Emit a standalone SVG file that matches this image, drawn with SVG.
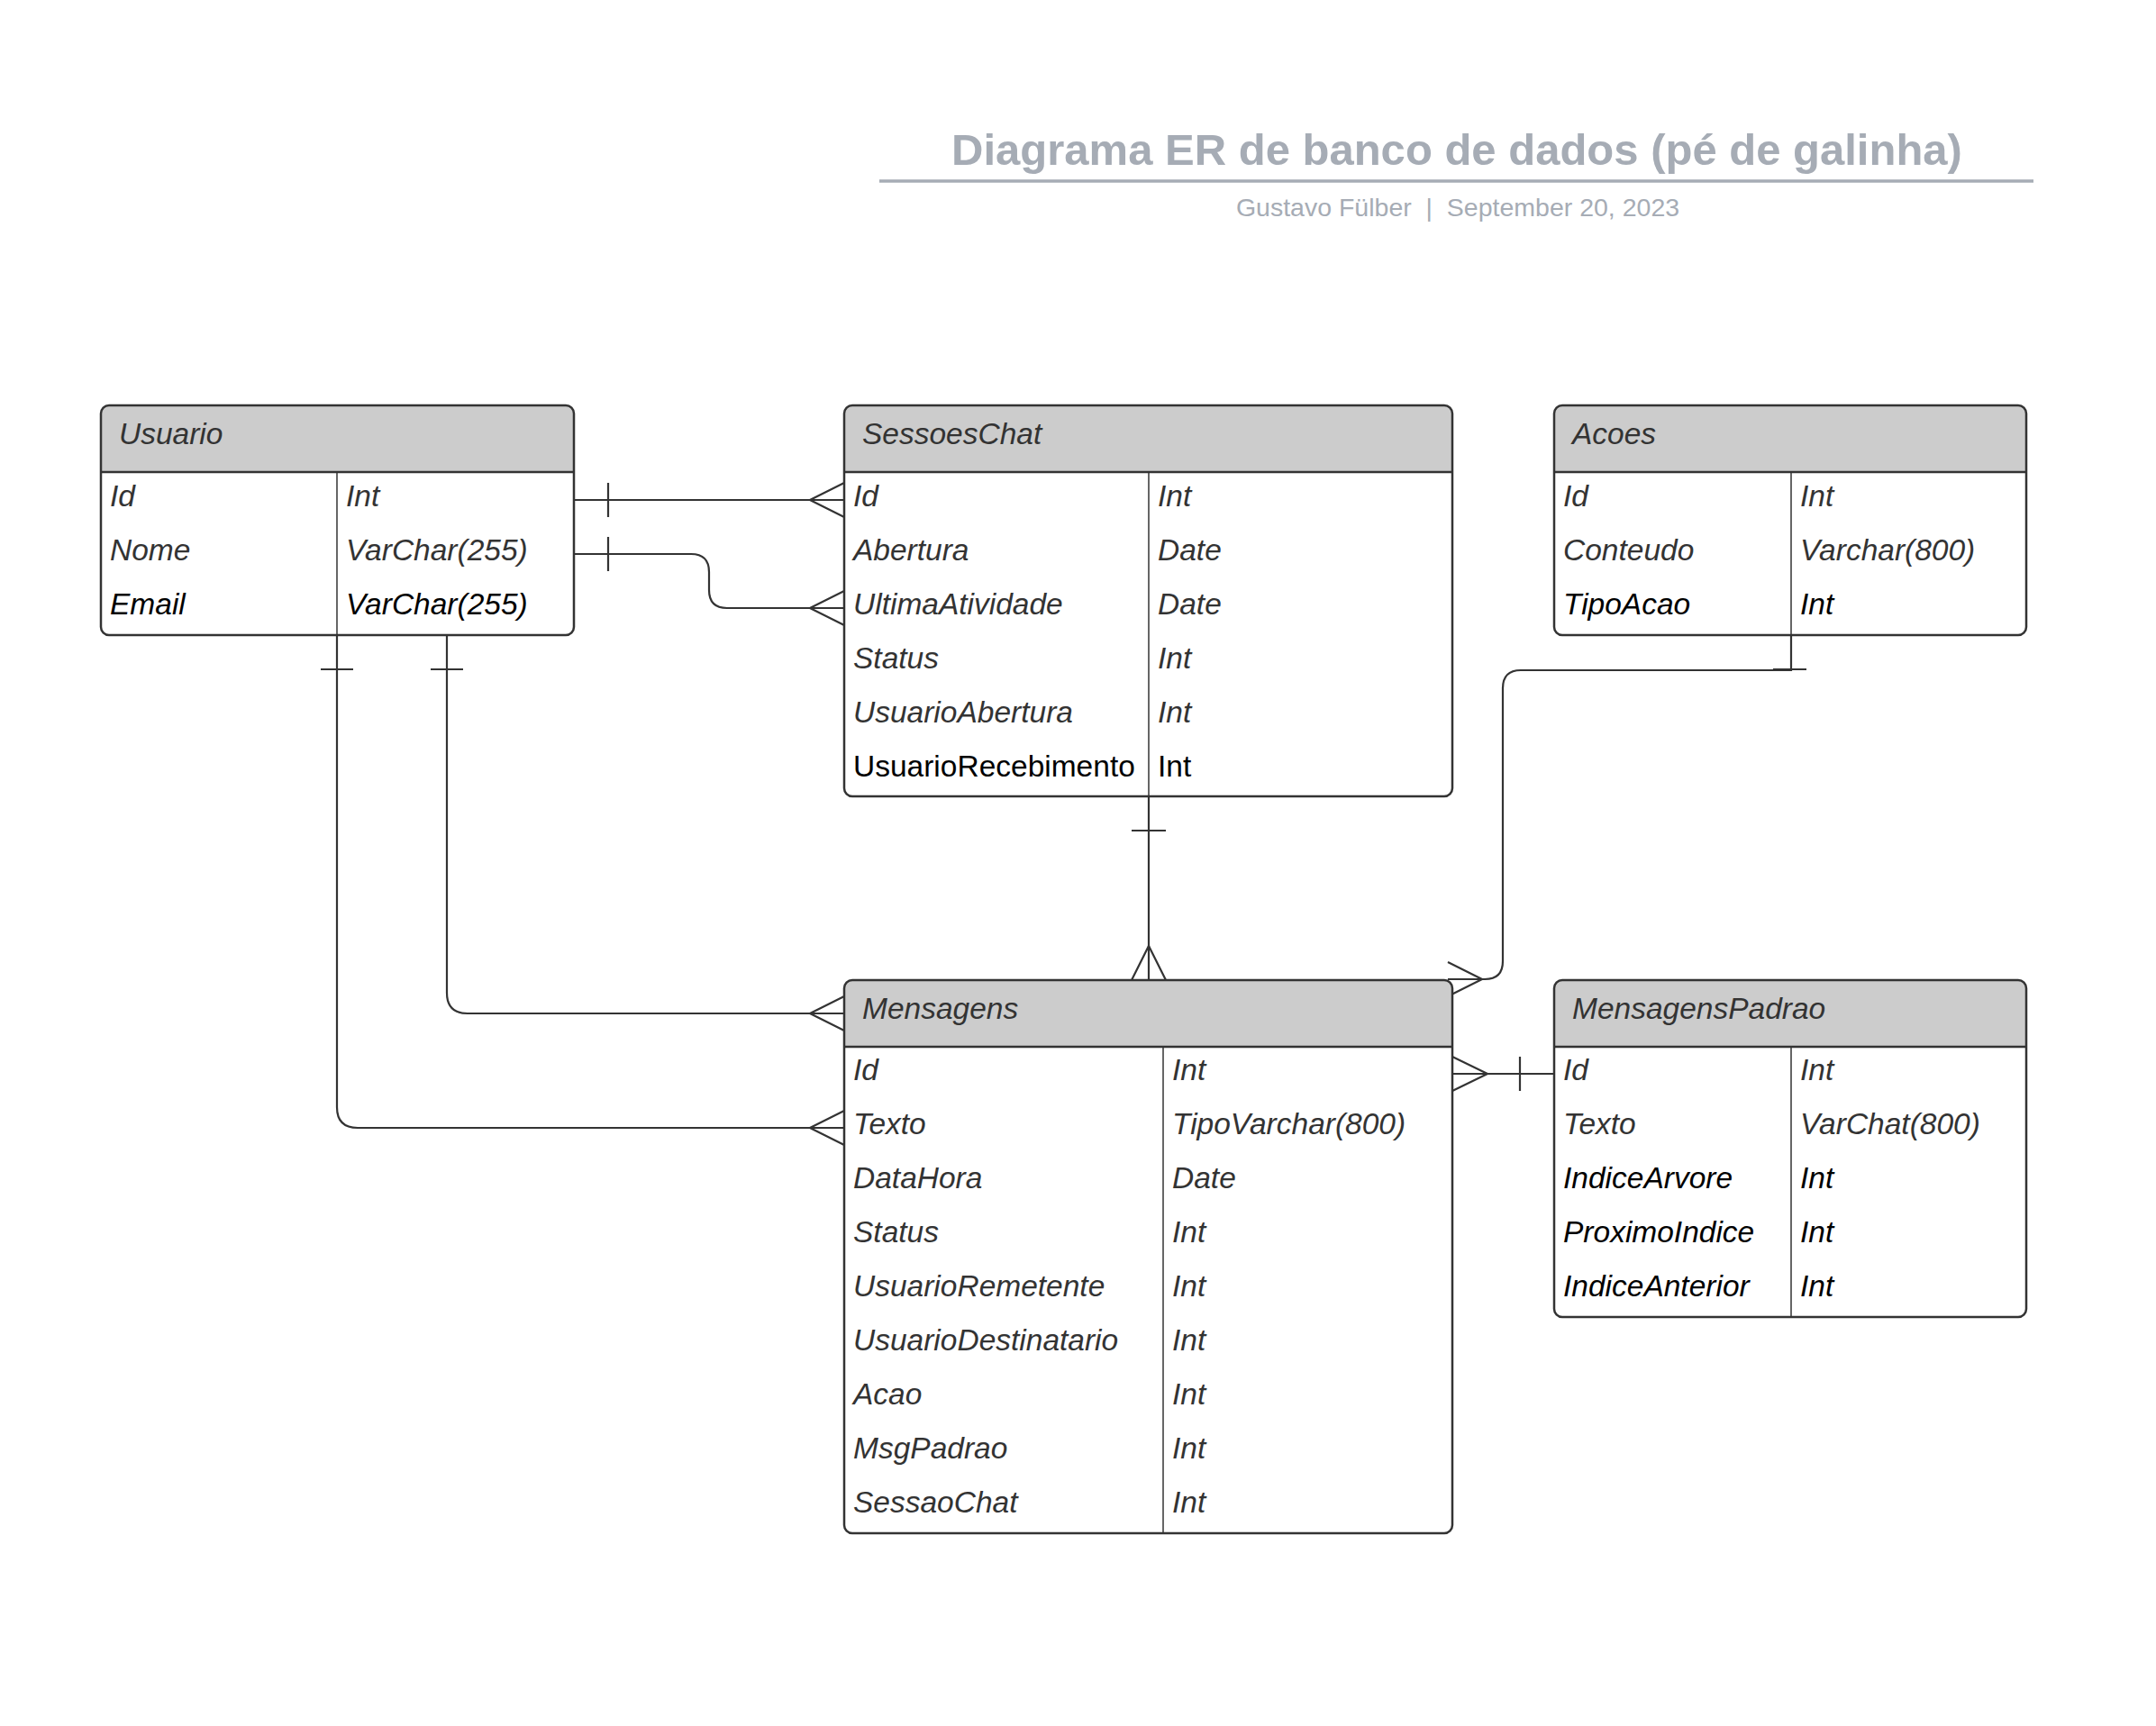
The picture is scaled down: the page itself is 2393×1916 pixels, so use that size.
<svg xmlns="http://www.w3.org/2000/svg" width="2393" height="1916" viewBox="0 0 2393 1916">
<style>
  .bg { fill: #ffffff; }
  .body { fill: #ffffff; stroke: none; }
  .head { fill: #cccccc; stroke: none; }
  .frame { fill: none; stroke: #333333; stroke-width: 2.5; }
  .sep { stroke: #333333; stroke-width: 2.5; }
  .div { stroke: #333333; stroke-width: 1.5; }
  .t { font-family: "Liberation Sans", Arial, sans-serif; font-size: 33.5px; font-style: italic; fill: #333333; }
  .k { fill: #000000; }
  .n { font-style: normal; fill: #000000; }
  .conn { fill: none; stroke: #333333; stroke-width: 2.2; }
  .mk { fill: none; stroke: #333333; stroke-width: 2.2; }
  .title { font-family: "Liberation Sans", Arial, sans-serif; font-size: 49px; font-weight: bold; fill: #a6acb5; }
  .sub { font-family: "Liberation Sans", Arial, sans-serif; font-size: 28.5px; fill: #a6acb5; white-space: pre; }
</style>
<rect class="bg" x="0" y="0" width="2393" height="1916"/>

<g id="title">
  <text class="title" x="1617" y="183" text-anchor="middle">Diagrama ER de banco de dados (pé de galinha)</text>
  <line x1="976" y1="201" x2="2257" y2="201" stroke="#a6acb5" stroke-width="3.5"/>
  <text class="sub" x="1618" y="240" text-anchor="middle" xml:space="preserve">Gustavo Fülber  |  September 20, 2023</text>
</g>

<g id="connectors">
  <!-- Usuario.Id -> SessoesChat.Id -->
  <path class="conn" d="M637,555 H937"/>
  <path class="mk" d="M675,536 V574 M899,555 L937,536 M899,555 L937,574"/>
  <!-- Usuario.Nome -> SessoesChat.UltimaAtividade -->
  <path class="conn" d="M637,615 H767 Q787,615 787,635 V655 Q787,675 807,675 H937"/>
  <path class="mk" d="M675,596 V634 M899,675 L937,656 M899,675 L937,694"/>
  <!-- Usuario -> Mensagens (header) -->
  <path class="conn" d="M496,705 V1102 Q496,1125 519,1125 H937"/>
  <path class="mk" d="M478,743 H514 M899,1125 L937,1106 M899,1125 L937,1144"/>
  <!-- Usuario -> Mensagens.Texto -->
  <path class="conn" d="M374,705 V1229 Q374,1252 397,1252 H937"/>
  <path class="mk" d="M356,743 H392 M899,1252 L937,1233 M899,1252 L937,1271"/>
  <!-- SessoesChat -> Mensagens -->
  <path class="conn" d="M1275,884 V1088"/>
  <path class="mk" d="M1256,922 H1294 M1275,1050 L1256,1088 M1275,1050 L1294,1088"/>
  <!-- Acoes -> Mensagens -->
  <path class="conn" d="M1988,705 V744 H1688 Q1668,744 1668,764 V1067 Q1668,1087 1648,1087 H1607"/>
  <path class="mk" d="M1968,743 H2005 M1645,1087 L1607,1068 M1645,1087 L1607,1106"/>
  <!-- Mensagens.Id -> MensagensPadrao.Id -->
  <path class="conn" d="M1612,1192 H1725"/>
  <path class="mk" d="M1687,1173 V1211 M1651,1192 L1612,1173 M1651,1192 L1612,1211"/>
</g>

<g id="Usuario">
  <rect class="body" x="112" y="450" width="525" height="255" rx="9"/>
  <path class="head" d="M112,524 V459 Q112,450 121,450 H628 Q637,450 637,459 V524 Z"/>
  <line class="sep" x1="112" y1="524" x2="637" y2="524"/>
  <line class="div" x1="374" y1="524" x2="374" y2="705"/>
  <rect class="frame" x="112" y="450" width="525" height="255" rx="9"/>
  <text class="t" x="132" y="493">Usuario</text>
  <text class="t" x="122" y="562">Id</text><text class="t" x="384" y="562">Int</text>
  <text class="t" x="122" y="622">Nome</text><text class="t" x="384" y="622">VarChar(255)</text>
  <text class="t k" x="122" y="682">Email</text><text class="t k" x="384" y="682">VarChar(255)</text>
</g>

<g id="SessoesChat">
  <rect class="body" x="937" y="450" width="675" height="434" rx="9"/>
  <path class="head" d="M937,524 V459 Q937,450 946,450 H1603 Q1612,450 1612,459 V524 Z"/>
  <line class="sep" x1="937" y1="524" x2="1612" y2="524"/>
  <line class="div" x1="1275" y1="524" x2="1275" y2="884"/>
  <rect class="frame" x="937" y="450" width="675" height="434" rx="9"/>
  <text class="t" x="957" y="493">SessoesChat</text>
  <text class="t" x="947" y="562">Id</text><text class="t" x="1285" y="562">Int</text>
  <text class="t" x="947" y="622">Abertura</text><text class="t" x="1285" y="622">Date</text>
  <text class="t" x="947" y="682">UltimaAtividade</text><text class="t" x="1285" y="682">Date</text>
  <text class="t" x="947" y="742">Status</text><text class="t" x="1285" y="742">Int</text>
  <text class="t" x="947" y="802">UsuarioAbertura</text><text class="t" x="1285" y="802">Int</text>
  <text class="t n" x="947" y="862">UsuarioRecebimento</text><text class="t n" x="1285" y="862">Int</text>
</g>

<g id="Acoes">
  <rect class="body" x="1725" y="450" width="524" height="255" rx="9"/>
  <path class="head" d="M1725,524 V459 Q1725,450 1734,450 H2240 Q2249,450 2249,459 V524 Z"/>
  <line class="sep" x1="1725" y1="524" x2="2249" y2="524"/>
  <line class="div" x1="1988" y1="524" x2="1988" y2="705"/>
  <rect class="frame" x="1725" y="450" width="524" height="255" rx="9"/>
  <text class="t" x="1745" y="493">Acoes</text>
  <text class="t" x="1735" y="562">Id</text><text class="t" x="1998" y="562">Int</text>
  <text class="t" x="1735" y="622">Conteudo</text><text class="t" x="1998" y="622">Varchar(800)</text>
  <text class="t k" x="1735" y="682">TipoAcao</text><text class="t k" x="1998" y="682">Int</text>
</g>

<g id="Mensagens">
  <rect class="body" x="937" y="1088" width="675" height="614" rx="9"/>
  <path class="head" d="M937,1162 V1097 Q937,1088 946,1088 H1603 Q1612,1088 1612,1097 V1162 Z"/>
  <line class="sep" x1="937" y1="1162" x2="1612" y2="1162"/>
  <line class="div" x1="1291" y1="1162" x2="1291" y2="1702"/>
  <rect class="frame" x="937" y="1088" width="675" height="614" rx="9"/>
  <text class="t" x="957" y="1131">Mensagens</text>
  <text class="t" x="947" y="1199">Id</text><text class="t" x="1301" y="1199">Int</text>
  <text class="t" x="947" y="1259">Texto</text><text class="t" x="1301" y="1259">TipoVarchar(800)</text>
  <text class="t" x="947" y="1319">DataHora</text><text class="t" x="1301" y="1319">Date</text>
  <text class="t" x="947" y="1379">Status</text><text class="t" x="1301" y="1379">Int</text>
  <text class="t" x="947" y="1439">UsuarioRemetente</text><text class="t" x="1301" y="1439">Int</text>
  <text class="t" x="947" y="1499">UsuarioDestinatario</text><text class="t" x="1301" y="1499">Int</text>
  <text class="t" x="947" y="1559">Acao</text><text class="t" x="1301" y="1559">Int</text>
  <text class="t" x="947" y="1619">MsgPadrao</text><text class="t" x="1301" y="1619">Int</text>
  <text class="t" x="947" y="1679">SessaoChat</text><text class="t" x="1301" y="1679">Int</text>
</g>

<g id="MensagensPadrao">
  <rect class="body" x="1725" y="1088" width="524" height="374" rx="9"/>
  <path class="head" d="M1725,1162 V1097 Q1725,1088 1734,1088 H2240 Q2249,1088 2249,1097 V1162 Z"/>
  <line class="sep" x1="1725" y1="1162" x2="2249" y2="1162"/>
  <line class="div" x1="1988" y1="1162" x2="1988" y2="1462"/>
  <rect class="frame" x="1725" y="1088" width="524" height="374" rx="9"/>
  <text class="t" x="1745" y="1131">MensagensPadrao</text>
  <text class="t" x="1735" y="1199">Id</text><text class="t" x="1998" y="1199">Int</text>
  <text class="t" x="1735" y="1259">Texto</text><text class="t" x="1998" y="1259">VarChat(800)</text>
  <text class="t k" x="1735" y="1319">IndiceArvore</text><text class="t k" x="1998" y="1319">Int</text>
  <text class="t k" x="1735" y="1379">ProximoIndice</text><text class="t k" x="1998" y="1379">Int</text>
  <text class="t k" x="1735" y="1439">IndiceAnterior</text><text class="t k" x="1998" y="1439">Int</text>
</g>
</svg>
